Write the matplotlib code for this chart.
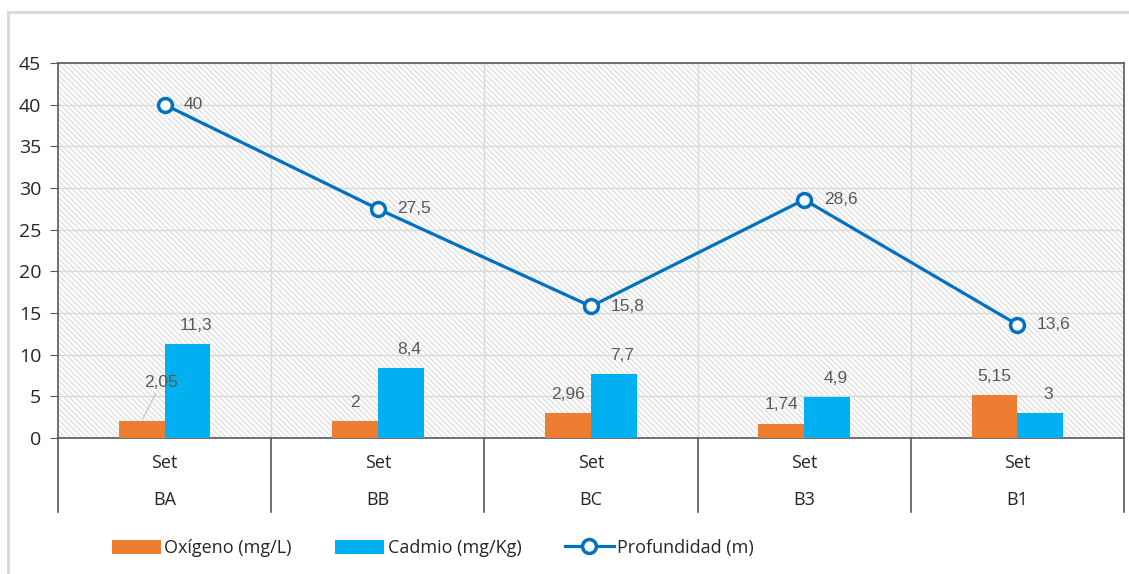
import numpy as np
import matplotlib
matplotlib.use("Agg")
import matplotlib.pyplot as plt
from matplotlib.patches import Rectangle
from matplotlib.lines import Line2D
import matplotlib.transforms as mtransforms

# datos por estación
estaciones = ["BA", "BB", "BC", "B3", "B1"]
serie = ["Set", "Set", "Set", "Set", "Set"]
oxigeno = [2.05, 2, 2.96, 1.74, 5.15]
cadmio = [11.3, 8.4, 7.7, 4.9, 3]
profundidad = [40, 27.5, 15.8, 28.6, 13.6]

c_ox = "#ED7D31"
c_cd = "#00B0F0"
c_pr = "#0070C0"
c_lab = "#595959"
c_axis = "#595959"

plt.rcParams["font.family"] = ["Open Sans", "DejaVu Sans"]
plt.rcParams["hatch.color"] = "#DDDDDD"
plt.rcParams["hatch.linewidth"] = 0.9

def coma(v):
    return ("%g" % v).replace(".", ",")

fig = plt.figure(figsize=(11.29, 5.74), dpi=100)
ax = fig.add_axes([58 / 1129, 1 - 438 / 574, (1124 - 58) / 1129, (438 - 63) / 574])

n = len(estaciones)
x = np.arange(n) + 0.5
w = 0.215

# fondo rayado
ax.add_patch(Rectangle((0, 0), 1, 1, transform=ax.transAxes, facecolor="white",
                       hatch="\\\\\\\\\\\\", edgecolor="#DDDDDD", lw=0, zorder=0))

ax.set_xlim(0, n)
ax.set_ylim(0, 45)
ax.set_yticks(np.arange(0, 46, 5))
ax.yaxis.grid(True, color="#D9D9D9", lw=1, zorder=1)
for b in range(1, n):
    ax.axvline(b, color="#D9D9D9", lw=1, zorder=1)
ax.set_axisbelow(True)

b1 = ax.bar(x - w / 2, oxigeno, w, color=c_ox, zorder=3, label="Oxígeno (mg/L)")
b2 = ax.bar(x + w / 2, cadmio, w, color=c_cd, zorder=3, label="Cadmio (mg/Kg)")
ln, = ax.plot(x, profundidad, color=c_pr, lw=2.3, marker="o", markersize=10,
              markerfacecolor="white", markeredgewidth=2.5, zorder=4,
              label="Profundidad (m)")

lab_font = dict(family=["Liberation Sans", "DejaVu Sans"], fontsize=12.5, color=c_lab)
for i in range(n):
    if i == 0:
        ax.annotate(coma(oxigeno[i]), (x[i] - w / 2, oxigeno[i]), xytext=(14, 22),
                    textcoords="offset points", ha="center", va="bottom",
                    arrowprops=dict(arrowstyle="-", color="#BFBFBF", lw=0.8,
                                    shrinkA=0, shrinkB=2), **lab_font)
    else:
        ax.annotate(coma(oxigeno[i]), (x[i] - w / 2, oxigeno[i]), xytext=(0, 8),
                    textcoords="offset points", ha="center", va="bottom", **lab_font)
    ax.annotate(coma(cadmio[i]), (x[i] + w / 2, cadmio[i]), xytext=(6, 8),
                textcoords="offset points", ha="center", va="bottom", **lab_font)
    ax.annotate(coma(profundidad[i]), (x[i], profundidad[i]), xytext=(14, 0),
                textcoords="offset points", ha="left", va="center", **lab_font)

# ejes
for s in ["left", "top", "right", "bottom"]:
    ax.spines[s].set_color(c_axis)
    ax.spines[s].set_linewidth(1.2)
ax.tick_params(axis="y", length=6, color=c_axis, labelsize=14, labelcolor="#262626", pad=6)
ax.tick_params(axis="x", length=0, labelbottom=False)

# eje de categorías de dos niveles
trans = mtransforms.blended_transform_factory(ax.transData, ax.transAxes)
depth = -(512 - 438) / 375
for b in range(n + 1):
    ax.add_line(Line2D([b, b], [0, depth], transform=trans, color=c_axis,
                       lw=1.2, clip_on=False))
for i in range(n):
    ax.text(x[i], -(463 - 438) / 375, serie[i], transform=trans, ha="center",
            va="center", fontsize=13, color="#262626")
    ax.text(x[i], -(500 - 438) / 375, estaciones[i], transform=trans, ha="center",
            va="center", fontsize=13, color="#262626")

# marco del gráfico
fig.add_artist(Line2D([8 / 1129, 8 / 1129], [0, 1 - 12 / 574], color="#D9D9D9", lw=2))
fig.add_artist(Line2D([8 / 1129, 1], [1 - 12 / 574, 1 - 12 / 574], color="#D9D9D9", lw=2))

fig.legend(handles=[b1, b2, ln], loc="center", ncol=3,
           bbox_to_anchor=(433 / 1129, 1 - 548 / 574), frameon=False,
           fontsize=13, handlelength=2.7, handleheight=0.8, handletextpad=0.2,
           columnspacing=2.4, labelcolor="#262626")

fig.savefig("out.png", dpi=100)
